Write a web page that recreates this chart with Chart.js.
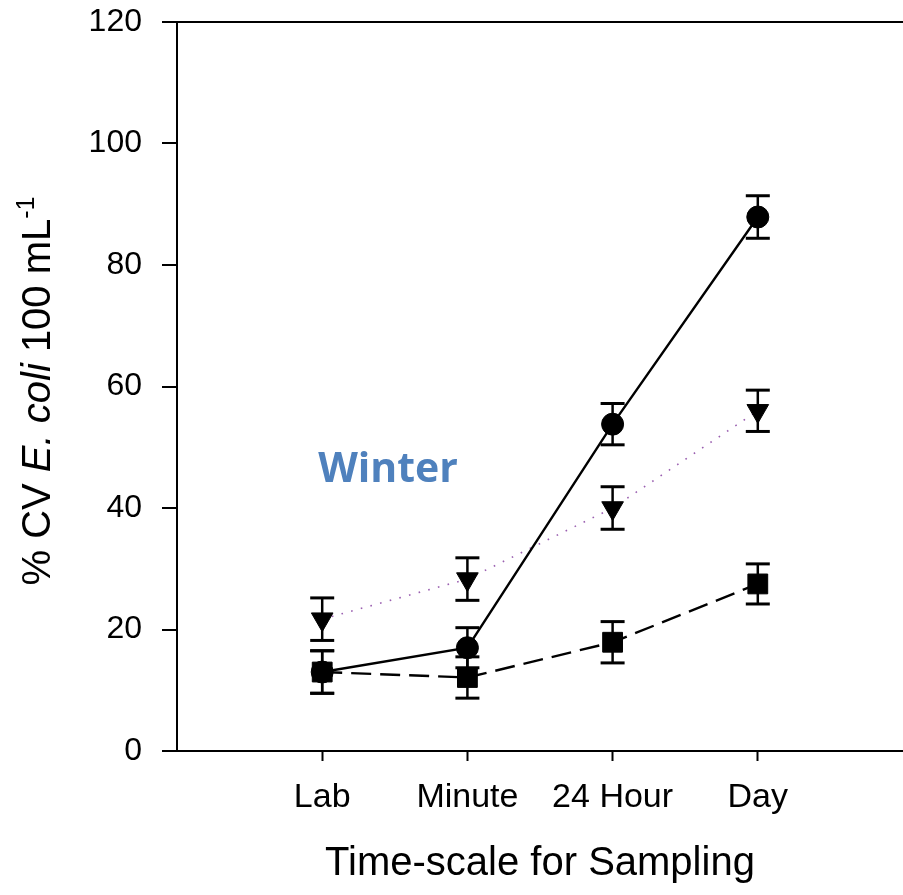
<!DOCTYPE html>
<html><head><meta charset="utf-8">
<script src="https://cdn.jsdelivr.net/npm/chart.js@4.4.1/dist/chart.umd.min.js"></script>
<style>html,body{margin:0;padding:0;background:#fff;} #wrap{width:903px;height:895px;}</style>
</head><body><div id="wrap"><canvas id="c" width="903" height="895"></canvas></div>
<script>
const categories = ['Lab', 'Minute', '24 Hour', 'Day'];
const xPositions = [1, 2, 3, 4];
const circleValues = [13.0, 17.0, 53.8, 87.9];
const circleErrors = [3.5, 3.3, 3.4, 3.5];
const squareValues = [13.0, 12.1, 17.9, 27.5];
const squareErrors = [3.5, 3.4, 3.4, 3.3];
const triangleValues = [21.7, 28.3, 40.0, 56.0];
const triangleErrors = [3.5, 3.5, 3.5, 3.4];
const yTickStep = 20;
const yMin = 0, yMax = 120;
const xMin = 0, xMax = 5;

const FONT = "'Liberation Sans', Arial, sans-serif";

function pts(vals) { return vals.map((v, i) => ({ x: xPositions[i], y: v })); }

const errorSets = [];
[[circleValues, circleErrors], [squareValues, squareErrors], [triangleValues, triangleErrors]].forEach(([vals, errs]) => {
  vals.forEach((v, i) => {
    errorSets.push({
      data: [{ x: xPositions[i], y: v - errs[i] }, { x: xPositions[i], y: v + errs[i] }],
      showLine: true,
      borderColor: '#000',
      borderWidth: 2.5,
      pointStyle: 'line',
      pointRadius: 12,
      pointBorderColor: '#000',
      pointBorderWidth: 3,
      pointHoverRadius: 12
    });
  });
});

const textPlugin = {
  id: 'texts',
  afterDraw(chart) {
    const ctx = chart.ctx;
    ctx.save();
    ctx.fillStyle = '#4f81bd';
    ctx.font = "bold 41px 'Open Sans', sans-serif";
    ctx.textAlign = 'center';
    ctx.textBaseline = 'alphabetic';
    ctx.fillText('Winter', 388, 482);
    ctx.restore();

    const F = 40;
    const segs = [
      { t: '% CV ', font: `${F}px ${FONT}`, dy: 0 },
      { t: 'E. coli', font: `italic ${F}px ${FONT}`, dy: 0 },
      { t: ' 100 mL', font: `${F}px ${FONT}`, dy: 0 },
      { t: '-1', font: `${Math.round(F * 0.62)}px ${FONT}`, dy: -0.42 * F }
    ];
    ctx.save();
    let total = 0;
    segs.forEach(s => { ctx.font = s.font; s.w = ctx.measureText(s.t).width; total += s.w; });
    ctx.translate(36, 391);
    ctx.rotate(-Math.PI / 2);
    ctx.fillStyle = '#000';
    ctx.textBaseline = 'alphabetic';
    ctx.textAlign = 'left';
    let x = -total / 2;
    const base = 0.358 * F;
    segs.forEach(s => { ctx.font = s.font; ctx.fillText(s.t, x, base + s.dy); x += s.w; });
    ctx.restore();
  }
};

function zeroPad(s) { s.paddingTop = 0; s.paddingBottom = 0; s.paddingLeft = 0; s.paddingRight = 0; }

new Chart(document.getElementById('c'), {
  type: 'scatter',
  data: {
    datasets: [
      {
        data: pts(circleValues), showLine: true, borderColor: '#000', borderWidth: 2.4,
        pointStyle: 'circle', pointRadius: 11, pointBackgroundColor: '#000', pointBorderColor: '#000', pointBorderWidth: 1
      },
      {
        data: pts(squareValues), showLine: true, borderColor: '#000', borderWidth: 2.4, borderDash: [20, 9],
        pointStyle: 'rect', pointRadius: 14, pointBackgroundColor: '#000', pointBorderColor: '#000', pointBorderWidth: 1
      },
      {
        data: pts(triangleValues), showLine: true, borderColor: '#9a5fb0', borderWidth: 1.6, borderDash: [1.6, 8.4],
        pointStyle: 'triangle', pointRotation: 180, pointRadius: 12.5, pointBackgroundColor: '#000', pointBorderColor: '#000', pointBorderWidth: 1
      },
      ...errorSets
    ]
  },
  options: {
    responsive: false,
    animation: false,
    events: [],
    layout: { autoPadding: false, padding: { top: 22, right: 0, left: 0, bottom: 0 } },
    plugins: { legend: { display: false }, tooltip: { enabled: false } },
    scales: {
      x: {
        type: 'linear', min: xMin, max: xMax,
        afterBuildTicks: s => { s.ticks = xPositions.map(v => ({ value: v })); },
        afterFit: s => { s.height = 144; zeroPad(s); },
        ticks: {
          callback: v => { const i = xPositions.indexOf(v); return i >= 0 ? categories[i] : ''; },
          font: { family: FONT, size: 34, lineHeight: 1.2 }, color: '#000', padding: 16, maxRotation: 0, autoSkip: false
        },
        grid: { drawOnChartArea: false, drawTicks: true, tickLength: 10, tickColor: '#000', tickWidth: 2 },
        border: { color: '#000', width: 2 },
        title: { display: true, text: 'Time-scale for Sampling', color: '#000', font: { family: FONT, size: 40, lineHeight: 1.2 }, padding: { top: 0, bottom: 7 } }
      },
      y: {
        min: yMin, max: yMax,
        afterFit: s => { s.width = 177; zeroPad(s); },
        ticks: { stepSize: yTickStep, font: { family: FONT, size: 32 }, color: '#000', padding: 20 },
        grid: {
          color: c => (c.tick && c.tick.value === yMax) ? '#000' : 'rgba(0,0,0,0)',
          lineWidth: 2, drawTicks: true, tickLength: 15, tickColor: '#000', tickWidth: 2
        },
        border: { color: '#000', width: 2 }
      }
    }
  },
  plugins: [textPlugin]
});
</script>
</body></html>
